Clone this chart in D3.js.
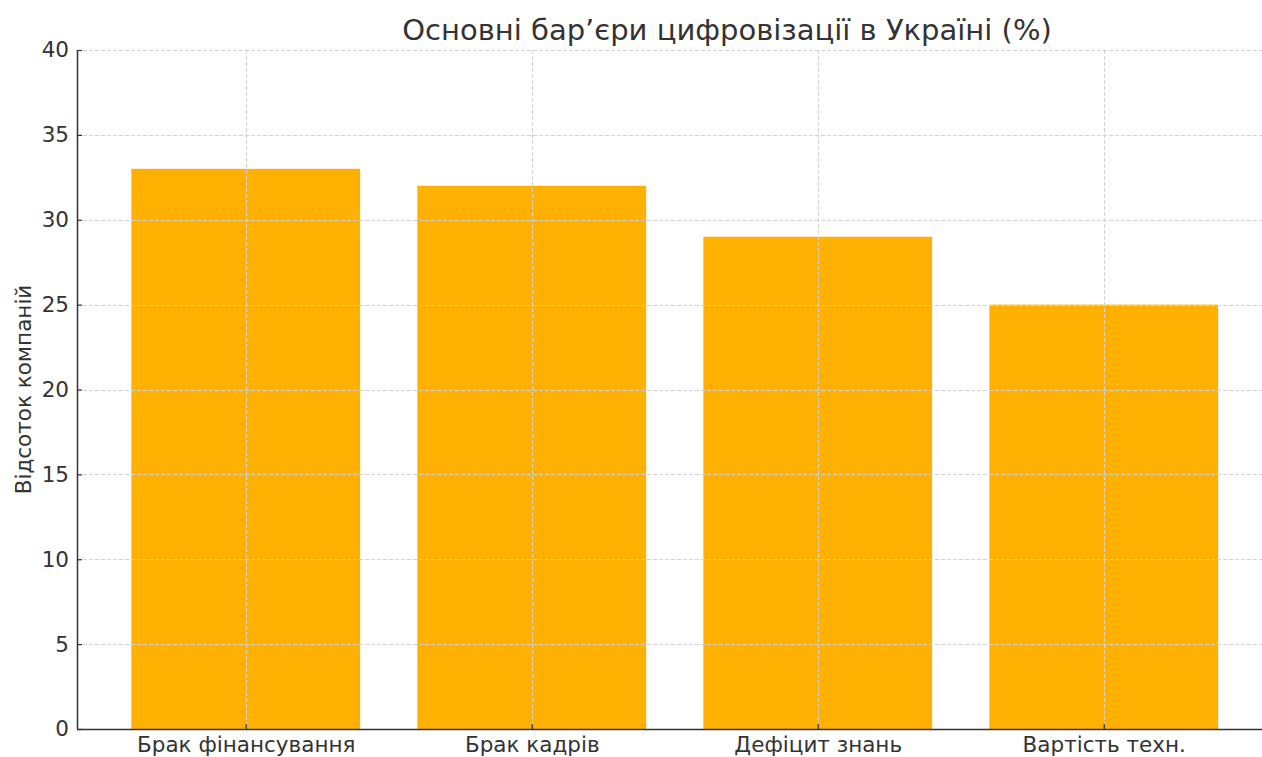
<!DOCTYPE html>
<html><head><meta charset="utf-8">
<script src="https://cdn.jsdelivr.net/npm/d3@7"></script>
<style>body{margin:0;background:#fff}svg{display:block}text{font-family:"DejaVu Sans",sans-serif}</style>
</head><body>
<script>
const categories = ["Брак фінансування", "Брак кадрів", "Дефіцит знань", "Вартість техн."];
const values = [33, 32, 29, 25];
const yTicks = [0, 5, 10, 15, 20, 25, 30, 35, 40];
const title = "Основні бар’єри цифровізації в Україні (%)";
const yLabel = "Відсоток компаній";

(function () {
const W = 1262, H = 757;
const mLeft = 77, mTop = 50, mBottom = 729;
const svg = d3.select("body").append("svg").attr("width", W).attr("height", H);

const x = d3.scaleLinear().domain([-0.59, 3.59]).range([mLeft, mLeft + 4.18 * 286]);
const y = d3.scaleLinear().domain([0, 40]).range([mBottom, mTop]);
const barW = x(0.4) - x(-0.4);
const ink = "#333";
const tickFont = "21.5px";

// bars
svg.append("g").selectAll("rect").data(values).join("rect")
  .attr("x", (d, i) => x(i) - barW / 2)
  .attr("y", d => y(d))
  .attr("width", barW)
  .attr("height", d => y(0) - y(d))
  .attr("fill", "#FFB000");

// grid
const grid = svg.append("g").attr("stroke", "#d3d3d3").attr("stroke-width", 1).attr("stroke-dasharray", "4,2");
grid.selectAll(".gy").data(yTicks.filter(t => t > 0)).join("line")
  .attr("x1", mLeft).attr("x2", W).attr("y1", d => Math.round(y(d)) + 0.5).attr("y2", d => Math.round(y(d)) + 0.5);
grid.selectAll(".gx").data(categories).join("line")
  .attr("y1", mTop).attr("y2", mBottom).attr("x1", (d, i) => Math.round(x(i)) + 0.5).attr("x2", (d, i) => Math.round(x(i)) + 0.5);

// y axis
const yAxis = d3.axisLeft(y).tickValues(yTicks).tickSizeInner(-5).tickSizeOuter(0).tickPadding(8);
const gy = svg.append("g").attr("transform", `translate(${mLeft},0)`).call(yAxis);
gy.select(".domain").attr("stroke", ink).attr("stroke-width", 1.5).attr("d", `M0.5,${mTop}V${mBottom}`);
gy.selectAll(".tick line").attr("stroke", ink).attr("stroke-width", 1.2);
gy.selectAll(".tick text").attr("fill", ink).style("font-size", tickFont).style("font-family", "DejaVu Sans");

// x axis
const xAxis = d3.axisBottom(x).tickValues(d3.range(categories.length)).tickFormat(i => categories[i]).tickSizeInner(-5).tickSizeOuter(0).tickPadding(8);
const gx = svg.append("g").attr("transform", `translate(0,${mBottom})`).call(xAxis);
gx.select(".domain").attr("stroke", ink).attr("stroke-width", 1.5).attr("d", `M${mLeft},0.5H${W}`);
gx.selectAll(".tick line").attr("stroke", ink).attr("stroke-width", 1.2);
gx.selectAll(".tick text").attr("fill", ink).style("font-size", tickFont).style("font-family", "DejaVu Sans");

// title
svg.append("text").attr("x", 727).attr("y", 40).attr("text-anchor", "middle")
  .attr("fill", ink).style("font-size", "29px").text(title);

// y label
svg.append("text").attr("transform", `translate(31,${(mTop + mBottom) / 2}) rotate(-90)`).attr("text-anchor", "middle")
  .attr("fill", ink).style("font-size", "21.5px").text(yLabel);
})();
</script>
</body></html>
